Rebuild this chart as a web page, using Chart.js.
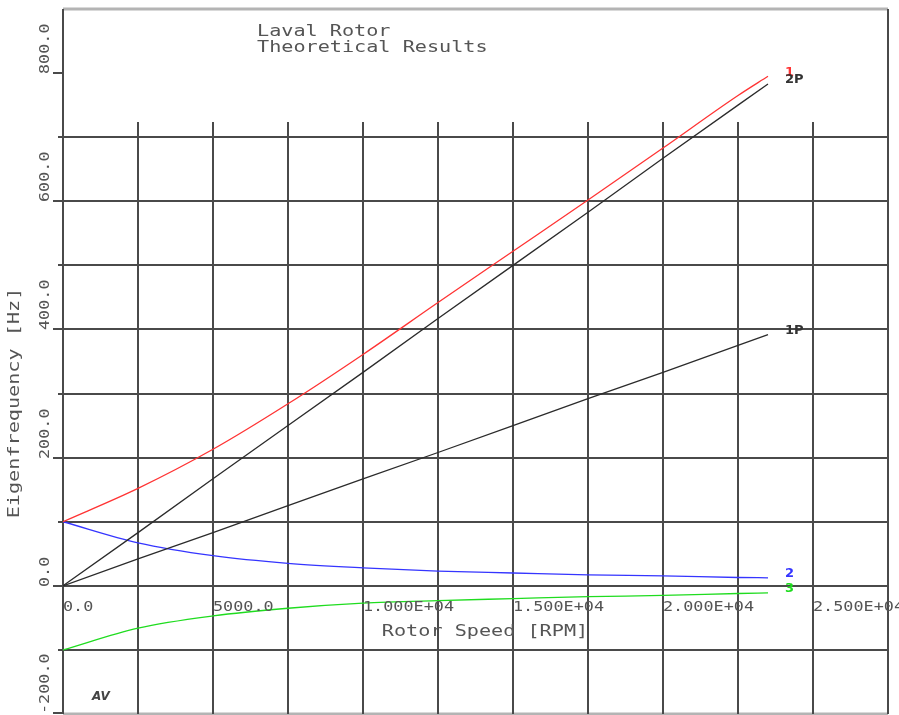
<!DOCTYPE html>
<html>
<head>
<meta charset="utf-8">
<title>Laval Rotor</title>
<script src="https://cdn.jsdelivr.net/npm/chart.js@4"></script>
<style>
  html, body { margin: 0; padding: 0; background: #fff; }
  canvas { display: block; }
</style>
</head>
<body>
<canvas id="campbell" width="899" height="715"></canvas>
<script>
// rotor speed samples [RPM]
const rotorSpeed = [0, 2500, 5000, 7500, 10000, 12500, 15000, 17500, 20000, 22500, 23500];

// whirl modes [Hz]
const mode1 = [100, 152, 213, 284, 361, 442, 522, 602, 683, 765, 795];
const mode2 = [100, 67, 47, 35, 28, 23, 20, 17, 15.5, 13, 12.5];
const mode3 = [-100, -66, -47, -35, -27, -23, -20, -17, -15, -12, -11];

// 1x and 2x running speed lines [Hz]
const order1P = [0, 42, 83, 125, 167, 208, 250, 292, 333, 375, 392];
const order2P = [0, 83, 167, 250, 333, 417, 500, 583, 667, 750, 783];

const xTickValues = [0, 5000, 10000, 15000, 20000, 25000];
const xTickLabels = ['0.0', '5000.0', '1.000E+04', '1.500E+04', '2.000E+04', '2.500E+04'];
const yTickValues = [-200, 0, 200, 400, 600, 800];
const yTickLabels = ['-200.0', '0.0', '200.0', '400.0', '600.0', '800.0'];
const xGridValues = [2500, 5000, 7500, 10000, 12500, 15000, 17500, 20000, 22500, 25000];
const yGridValues = [-100, 0, 100, 200, 300, 400, 500, 600, 700, 800];

const curves = [
  { label: '1', values: mode1, color: '#ff3333', smooth: true },
  { label: '2P', values: order2P, color: '#2b2b2b', smooth: false },
  { label: '1P', values: order1P, color: '#2b2b2b', smooth: false },
  { label: '2', values: mode2, color: '#3535ff', smooth: true },
  { label: '3', values: mode3, color: '#1fdc1f', smooth: true },
];

const MONO = '"DejaVu Sans Mono", "Liberation Mono", monospace';

function wideText(ctx, text, x, y, angle, stretch) {
  ctx.save();
  ctx.translate(x, y);
  ctx.rotate(angle);
  ctx.scale(stretch, 1);
  ctx.fillText(text, 0, 0);
  ctx.restore();
}

function rule(ctx, x0, y0, x1, y1) {
  ctx.beginPath();
  ctx.moveTo(x0, y0);
  ctx.lineTo(x1, y1);
  ctx.stroke();
}

const plotFrame = {
  id: 'plotFrame',
  beforeDatasetsDraw(chart) {
    const { ctx, chartArea: a, scales: { x, y } } = chart;
    ctx.save();

    // light outer edges
    ctx.lineWidth = 3;
    ctx.strokeStyle = '#b4b4b4';
    rule(ctx, a.left, a.top, a.right, a.top);
    rule(ctx, a.left, a.bottom, a.right, a.bottom);

    ctx.lineWidth = 2;
    ctx.strokeStyle = '#4a4a4a';

    // horizontal rules; labelled ones stick out further left
    yGridValues.forEach((v) => {
      const py = Math.round(y.getPixelForValue(v));
      const x0 = yTickValues.includes(v) ? a.left - 10 : a.left - 5;
      const x1 = v >= 800 ? a.left : a.right;
      rule(ctx, x0, py, x1, py);
    });
    const pyBottom = Math.round(y.getPixelForValue(-200));
    rule(ctx, a.left - 10, pyBottom - 1, a.left, pyBottom - 1);

    // vertical rules begin a little above the 700 Hz row
    const gridTop = Math.round(y.getPixelForValue(723));
    xGridValues.forEach((v) => {
      const px = Math.round(x.getPixelForValue(v));
      rule(ctx, px, gridTop, px, a.bottom);
    });

    // axis and right border
    rule(ctx, a.left, a.top, a.left, a.bottom);
    rule(ctx, a.right, a.top, a.right, a.bottom);

    ctx.restore();
  },
  afterDraw(chart) {
    const { ctx, chartArea: a, scales: { x, y } } = chart;
    ctx.save();
    ctx.fillStyle = '#555';
    ctx.textBaseline = 'middle';
    ctx.textAlign = 'left';

    // tick labels
    ctx.font = '14px ' + MONO;
    xTickValues.forEach((v, i) => {
      wideText(ctx, xTickLabels[i], Math.round(x.getPixelForValue(v)), 607, 0, 1.2);
    });
    yTickValues.forEach((v, i) => {
      const py = Math.min(Math.round(y.getPixelForValue(v)) + 1, a.bottom);
      wideText(ctx, yTickLabels[i], 45, py, -Math.PI / 2, 1.2);
    });

    // axis titles
    ctx.font = '16px ' + MONO;
    ctx.textAlign = 'center';
    wideText(ctx, 'Rotor Speed [RPM]', 485, 632, 0, 1.26);
    wideText(ctx, 'Eigenfrequency [Hz]', 15, 403, -Math.PI / 2, 1.26);

    // heading
    ctx.textAlign = 'left';
    wideText(ctx, 'Laval Rotor', 257, 32, 0, 1.26);
    wideText(ctx, 'Theoretical Results', 257, 48, 0, 1.26);

    // curve names at the end of each line
    ctx.font = 'bold 13px "DejaVu Sans", sans-serif';
    curves.forEach((c) => {
      const n = c.values.length - 1;
      const px = x.getPixelForValue(rotorSpeed[n]);
      const py = y.getPixelForValue(c.values[n]);
      ctx.fillStyle = c.label === '1P' || c.label === '2P' ? '#333' : c.color;
      ctx.fillText(c.label, px + 17, py - 4);
    });

    ctx.font = 'italic bold 12px "DejaVu Sans", sans-serif';
    ctx.fillStyle = '#444';
    ctx.fillText('AV', 92, 697);
    ctx.restore();
  },
};

new Chart(document.getElementById('campbell'), {
  type: 'line',
  data: {
    datasets: curves.map((c) => ({
      label: c.label,
      data: rotorSpeed.map((s, i) => ({ x: s, y: c.values[i] })),
      borderColor: c.color,
      borderWidth: 1.3,
      pointRadius: 0,
      fill: false,
      cubicInterpolationMode: c.smooth ? 'monotone' : 'default',
      tension: 0,
    })),
  },
  options: {
    responsive: false,
    animation: false,
    events: [],
    layout: { padding: { left: 63, right: 11, top: 9, bottom: 1 } },
    scales: {
      x: { type: 'linear', min: 0, max: 27500, display: false },
      y: { type: 'linear', min: -200, max: 900, display: false },
    },
    plugins: {
      legend: { display: false },
      tooltip: { enabled: false },
    },
  },
  plugins: [plotFrame],
});
</script>
</body>
</html>
